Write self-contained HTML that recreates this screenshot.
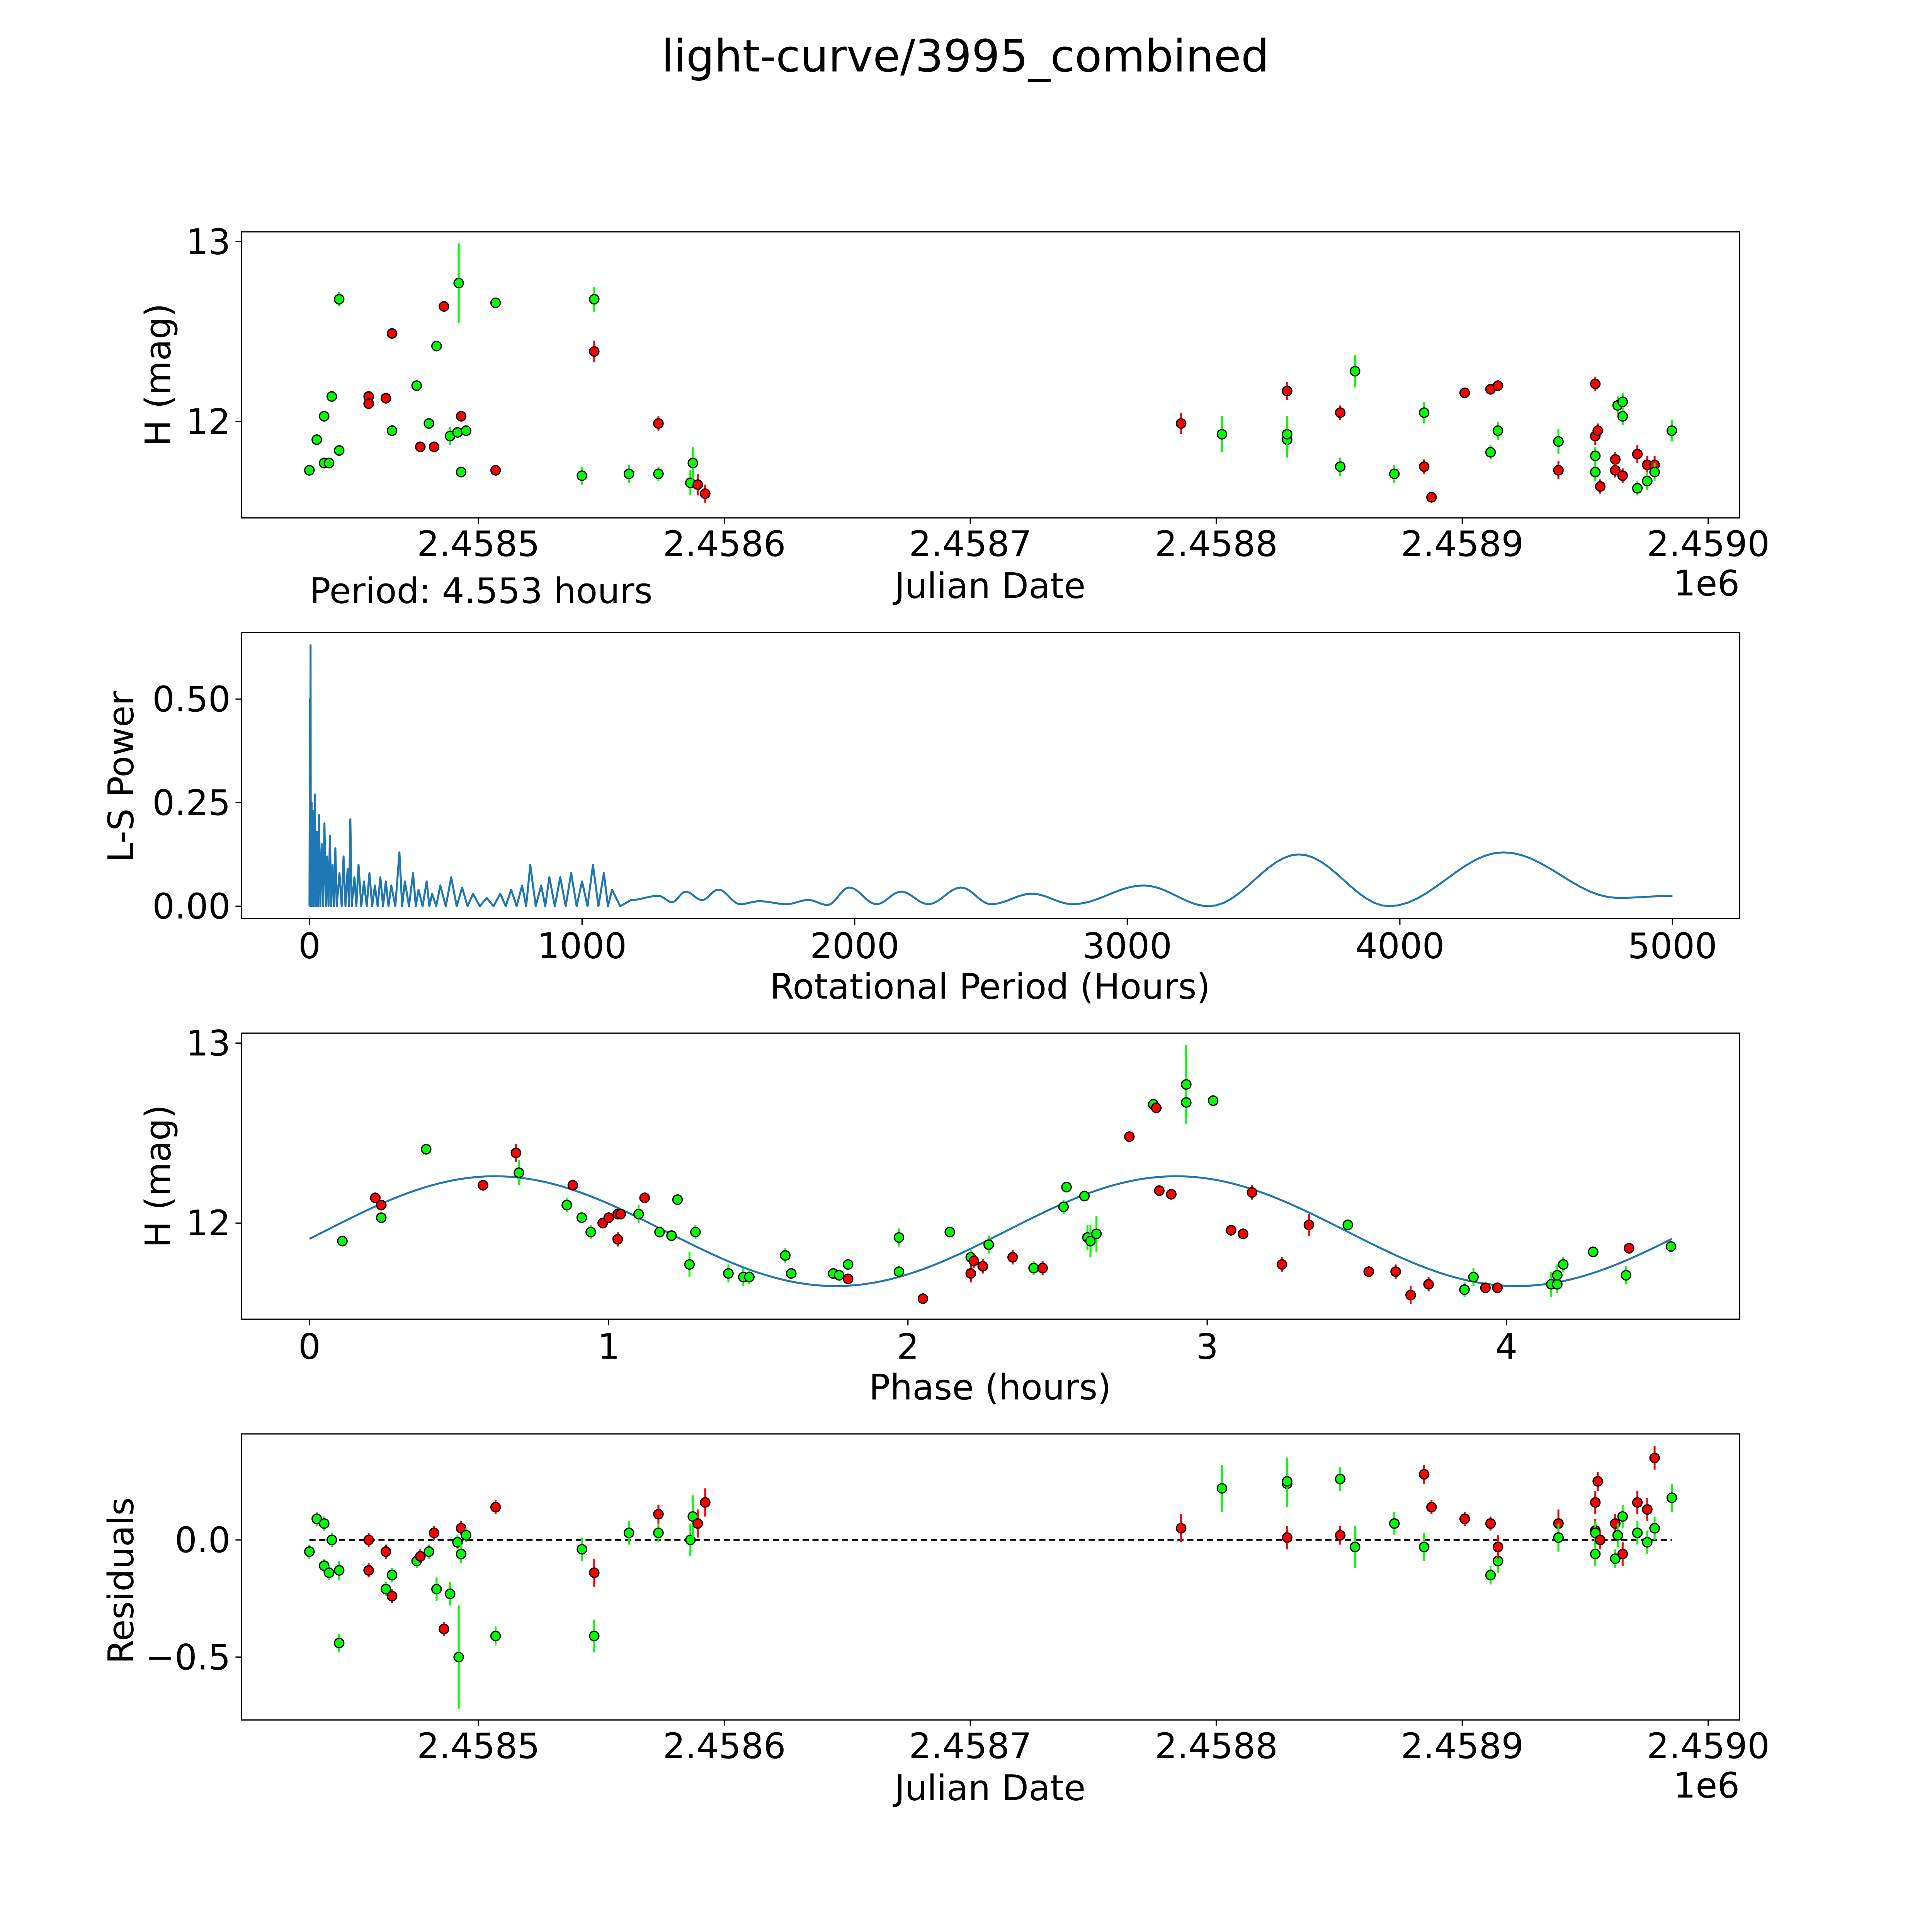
<!DOCTYPE html>
<html><head><meta charset="utf-8"><style>
html,body{margin:0;padding:0;background:#fff;overflow:hidden}
svg{display:block;width:100vw;height:100vw}
text{font-family:"DejaVu Sans","Liberation Sans",sans-serif;fill:#000}
</style></head><body>
<svg id="fig" xmlns="http://www.w3.org/2000/svg" viewBox="0 0 1567 1567" preserveAspectRatio="xMinYMin meet">
<rect x="0" y="0" width="1567" height="1567" fill="#fff"/>
<text x="783" y="58" font-size="36" text-anchor="middle">light-curve/3995_combined</text>
<g id="p1"></g>
<g id="p2"></g>
<g id="p3"></g>
<g id="p4"></g>
</svg>
<script>
// ===== DATA =====
const lcDays = [-68.7,-65.7,-62.7,-62.7,-60.7,-59.6,-56.6,-56.6,-44.6,-44.6,-37.6,-35.1,-35.1,-25.1,-23.6,-20.1,-18.0,-17.0,-14.0,-11.5,-8.0,-8.5,-7.0,-7.0,-5.0,7.0,7.0,42.1,47.1,47.1,61.2,73.2,73.2,86.2,87.2,89.2,92.2,285.7,302.3,328.8,328.8,328.8,350.4,350.4,356.4,372.4,384.5,384.5,387.5,401.0,411.5,414.5,411.5,414.5,439.1,439.1,454.1,454.1,455.1,454.1,454.1,456.1,462.2,462.2,465.2,463.2,465.2,465.2,471.2,471.2,475.2,475.2,478.2,478.2,485.2];
const lcMag = [11.73,11.90,12.03,11.77,11.77,12.14,12.68,11.84,12.14,12.10,12.13,12.49,11.95,12.20,11.86,11.99,11.86,12.42,12.64,11.92,12.77,11.94,12.03,11.72,11.95,12.66,11.73,11.70,12.68,12.39,11.71,11.71,11.99,11.66,11.77,11.65,11.60,11.99,11.93,12.17,11.90,11.93,12.05,11.75,12.28,11.71,11.75,12.05,11.58,12.16,12.18,12.20,11.83,11.95,11.89,11.73,12.21,11.92,11.95,11.81,11.72,11.64,11.79,11.73,11.70,12.09,12.11,12.03,11.63,11.82,11.76,11.67,11.76,11.72,11.95];
const lcErr = [0.03,0.03,0.03,0.03,0.03,0.03,0.04,0.03,0.03,0.03,0.03,0.03,0.03,0.03,0.03,0.03,0.03,0.03,0.03,0.05,0.22,0.03,0.03,0.03,0.03,0.03,0.03,0.05,0.07,0.06,0.05,0.04,0.04,0.07,0.09,0.06,0.05,0.06,0.10,0.05,0.10,0.10,0.04,0.05,0.09,0.05,0.04,0.06,0.03,0.03,0.03,0.03,0.04,0.05,0.07,0.05,0.04,0.05,0.04,0.05,0.05,0.04,0.04,0.04,0.04,0.05,0.05,0.05,0.04,0.05,0.05,0.05,0.05,0.05,0.06];
const lcCol = ['g','g','g','g','g','g','g','g','r','r','r','r','g','g','r','g','r','g','r','g','g','g','r','g','g','g','r','g','g','r','g','g','r','g','g','r','r','r','g','r','g','g','r','g','g','g','r','g','r','r','r','r','g','g','g','r','r','r','r','g','g','r','r','r','r','g','g','g','g','r','r','g','r','g','g'];
const lsPeriod = [0,2,3,4,5,8,10,14,16,20,24,28,31,35,40,45,50,55,60,65,70,75,80,85,90,95,100,110,118,125,132,140,145,150,155,165,172,180,190,200,210,220,230,240,250,260,270,280,290,300,315,330,340,350,365,380,390,400,415,430,440,450,465,480,500,520,540,560,580,600,625,650,675,700,720,740,760,780,795,810,830,850,865,880,900,920,940,960,980,1000,1020,1040,1060,1080,1095,1110,1140,1180];
const lsPower = [0.00,0.50,0.00,0.63,0.00,0.25,0.00,0.23,0.00,0.27,0.00,0.18,0.00,0.22,0.00,0.15,0.00,0.20,0.00,0.12,0.00,0.17,0.00,0.10,0.00,0.14,0.00,0.08,0.00,0.12,0.00,0.09,0.00,0.21,0.00,0.07,0.00,0.10,0.00,0.06,0.00,0.08,0.00,0.05,0.00,0.07,0.00,0.06,0.00,0.05,0.00,0.13,0.00,0.06,0.00,0.08,0.00,0.04,0.00,0.06,0.00,0.03,0.00,0.05,0.00,0.07,0.00,0.045,0.00,0.03,0.00,0.02,0.00,0.03,0.00,0.04,0.00,0.05,0.00,0.10,0.00,0.05,0.00,0.07,0.00,0.07,0.00,0.08,0.00,0.06,0.00,0.10,0.00,0.08,0.00,0.04,0.00,0.015];
const lsExtP = [1180,1280,1330,1380,1440,1500,1580,1650,1750,1830,1900,1980,2080,2170,2270,2390,2500,2650,2800,3060,3300,3630,3960,4380,4800,5000];
const lsExtV = [0.015,0.025,0.01,0.035,0.015,0.04,0.005,0.012,0.005,0.015,0.003,0.045,0.005,0.035,0.005,0.045,0.005,0.03,0.005,0.05,0.0,0.125,0.0,0.13,0.02,0.025];
const phPhase = [0.11,0.22,0.24,0.24,0.39,0.58,0.69,0.70,0.86,0.88,0.91,0.94,0.98,1.00,1.03,1.03,1.04,1.10,1.12,1.17,1.21,1.23,1.27,1.29,1.40,1.45,1.47,1.59,1.61,1.75,1.77,1.80,1.80,1.97,1.97,2.05,2.14,2.21,2.21,2.22,2.25,2.27,2.35,2.42,2.45,2.52,2.53,2.59,2.60,2.61,2.63,2.74,2.82,2.83,2.93,2.93,2.84,2.88,3.02,3.08,3.12,3.15,3.25,3.34,3.47,3.54,3.63,3.68,3.74,3.86,3.89,3.93,3.97,4.15,4.17,4.17,4.19,4.29,4.40,4.41,4.55];
const phMag = [11.90,12.14,12.10,12.03,12.41,12.21,12.39,12.28,12.10,12.21,12.03,11.95,12.00,12.03,12.05,11.91,12.05,12.05,12.14,11.95,11.93,12.13,11.77,11.95,11.72,11.70,11.70,11.82,11.72,11.72,11.71,11.69,11.77,11.73,11.92,11.58,11.95,11.81,11.72,11.79,11.76,11.88,11.81,11.75,11.75,12.09,12.20,12.15,11.92,11.90,11.94,12.48,12.66,12.64,12.77,12.67,12.18,12.16,12.68,11.96,11.94,12.17,11.77,11.99,11.99,11.73,11.73,11.60,11.66,11.63,11.70,11.64,11.64,11.66,11.66,11.71,11.77,11.84,11.71,11.86,11.87];
const phErr = [0.02,0.03,0.03,0.03,0.03,0.03,0.05,0.07,0.04,0.03,0.03,0.04,0.03,0.03,0.03,0.04,0.03,0.05,0.03,0.03,0.03,0.03,0.07,0.04,0.05,0.05,0.04,0.04,0.03,0.03,0.03,0.03,0.03,0.03,0.05,0.03,0.03,0.04,0.05,0.04,0.04,0.05,0.04,0.04,0.04,0.04,0.03,0.03,0.07,0.09,0.10,0.02,0.03,0.03,0.22,0.07,0.03,0.03,0.03,0.03,0.03,0.04,0.04,0.06,0.03,0.03,0.04,0.05,0.04,0.04,0.05,0.03,0.03,0.07,0.05,0.06,0.04,0.03,0.05,0.03,0.03];
const phCol = ['g','r','r','g','g','r','r','g','g','r','g','g','r','r','r','r','r','g','r','g','g','g','g','g','g','g','g','g','g','g','g','r','g','g','g','r','g','g','r','r','r','g','r','g','r','g','g','g','g','g','g','r','g','r','g','g','r','r','g','r','r','r','r','r','g','r','r','r','r','g','g','r','r','g','g','g','g','g','g','r','g'];
const fitMean = 11.955, fitAmp = 0.305, fitPeak = 0.62, fitHalfPeriod = 2.2765;
const rsDays = [-68.7,-65.7,-62.7,-62.7,-59.6,-60.7,-56.6,-56.6,-44.6,-44.6,-37.6,-37.6,-35.1,-35.1,-25.1,-23.6,-20.1,-18.0,-17.0,-14.0,-11.5,-8.5,-8.0,-7.0,-7.0,-5.0,7.0,7.0,42.1,47.1,47.1,61.2,73.2,73.2,86.2,87.2,89.2,92.2,285.7,302.3,328.8,328.8,328.8,350.4,350.4,356.4,372.4,384.5,384.5,387.5,401.0,411.5,411.5,414.5,414.5,439.1,439.1,455.1,454.1,454.1,454.1,454.1,456.1,462.2,462.2,463.2,465.2,465.2,471.2,471.2,475.2,475.2,478.2,478.2,485.2];
const rsVal = [-0.05,0.09,0.07,-0.11,0.0,-0.14,-0.13,-0.44,0.0,-0.13,-0.05,-0.21,-0.24,-0.15,-0.09,-0.07,-0.05,0.03,-0.21,-0.38,-0.23,-0.01,-0.50,0.05,-0.06,0.02,-0.41,0.14,-0.04,-0.41,-0.14,0.03,0.03,0.11,0.0,0.10,0.07,0.16,0.05,0.22,0.01,0.24,0.25,0.02,0.26,-0.03,0.07,0.28,-0.03,0.14,0.09,0.07,-0.15,-0.09,-0.03,0.07,0.01,0.25,0.16,0.04,0.03,-0.06,0.0,0.07,-0.08,0.02,-0.06,0.10,0.03,0.16,0.13,-0.01,0.35,0.05,0.18];
const rsErr = [0.03,0.03,0.03,0.03,0.03,0.03,0.04,0.04,0.03,0.03,0.03,0.03,0.03,0.03,0.03,0.03,0.03,0.03,0.05,0.03,0.05,0.03,0.22,0.03,0.04,0.03,0.04,0.03,0.05,0.07,0.06,0.05,0.04,0.04,0.07,0.09,0.06,0.06,0.06,0.10,0.05,0.10,0.10,0.04,0.05,0.09,0.05,0.04,0.06,0.03,0.03,0.03,0.04,0.05,0.05,0.06,0.06,0.04,0.05,0.05,0.05,0.05,0.04,0.04,0.04,0.05,0.05,0.05,0.05,0.05,0.05,0.05,0.05,0.05,0.06];
const rsCol = ['g','g','g','g','g','g','g','g','r','r','r','g','r','g','g','r','g','r','g','r','g','g','g','r','g','g','g','r','g','g','r','g','g','r','g','g','r','r','r','g','r','g','g','r','g','g','g','r','g','r','r','r','g','g','r','r','g','r','r','r','g','g','r','r','g','g','r','g','g','r','r','g','r','g','g'];
const jdTicks = [0,100,200,300,400,500];
const jdTickLabels = ['2.4585','2.4586','2.4587','2.4588','2.4589','2.4590'];
const lsTicks = [0,1000,2000,3000,4000,5000];
const lsYTicks = [0,0.25,0.5];
const lsYTickLabels = ['0.00','0.25','0.50'];
const phTicks = [0,1,2,3,4];
const rsYTicks = [0,-0.5];
const rsYTickLabels = ['0.0','\u22120.5'];

// ===== DRAWING =====
const NS='http://www.w3.org/2000/svg';
const FS=28.5;
function mk(parent,tag,attrs,txt){const e=document.createElementNS(NS,tag);for(const k in attrs)e.setAttribute(k,attrs[k]);if(txt!==undefined)e.textContent=txt;parent.appendChild(e);return e;}
const L=196,R=1411;
const xJD=d=>388+d*1.995;
const COL={r:'#ff0000',g:'#00ff00'};

function frame(g,top,bot){
  const f=mk(g,'rect',{x:L,y:top,width:R-L,height:bot-top,fill:'none',stroke:'#000','stroke-width':1});
  
  
}
function xtick(g,x,bot,label,by){
  mk(g,'line',{x1:x,y1:bot,x2:x,y2:bot+5,stroke:'#000','stroke-width':1});
  const t=mk(g,'text',{x:x,y:by,'font-size':FS,'text-anchor':'middle'},label);
  
  
}
function ytick(g,y,label){
  mk(g,'line',{x1:L,y1:y,x2:L-5,y2:y,stroke:'#000','stroke-width':1});
  const t=mk(g,'text',{x:L-9,y:y+10,'font-size':FS,'text-anchor':'end'},label);
  
  
}
function ylabel(g,x,cy,label,name){
  const t=mk(g,'text',{x:0,y:0,'font-size':FS,'text-anchor':'middle',transform:`translate(${x},${cy}) rotate(-90)`},label);
  
  
}
function xlabel(g,y,label,name){
  const t=mk(g,'text',{x:803,y:y,'font-size':FS,'text-anchor':'middle'},label);
  
  
}
function points(g,xs,ys,es,cs,xf,yf,ysc){
  for(let i=0;i<xs.length;i++){
    const x=xf(xs[i]),y=yf(ys[i]),c=COL[cs[i]];
    const eb=mk(g,'line',{x1:x,y1:y-es[i]*ysc,x2:x,y2:y+es[i]*ysc,stroke:c,'stroke-width':1.6});
    
    
    const p=mk(g,'circle',{cx:x,cy:y,r:3.8,fill:c,stroke:'#000','stroke-width':1});
    
    
  }
}

// Panel 1
(function(){
  const g=document.getElementById('p1');
  const yf=m=>342-(m-12)*146;
  frame(g,188,420);
  jdTicks.forEach((d,i)=>xtick(g,xJD(d),420,jdTickLabels[i],451));
  [12,13].forEach(v=>ytick(g,yf(v),String(v)));
  points(g,lcDays,lcMag,lcErr,lcCol,xJD,yf,146);
  xlabel(g,485,'Julian Date','x-axis-title');
  const o=mk(g,'text',{x:1411,y:483,'font-size':FS,'text-anchor':'end'},'1e6');
  
  
  const pt=mk(g,'text',{x:251,y:489,'font-size':FS},'Period: 4.553 hours');
  
  
  ylabel(g,138,304,'H (mag)','y-axis-title');
})();

// Panel 2
(function(){
  const g=document.getElementById('p2');
  const xf=p=>251+p*0.2211, yf=v=>735-v*336;
  frame(g,513,745);
  lsTicks.forEach(v=>xtick(g,xf(v),745,String(v),777));
  lsYTicks.forEach((v,i)=>ytick(g,yf(v),lsYTickLabels[i]));
  let d='';
  for(let i=0;i<lsPeriod.length;i++) d+=(i?'L':'M')+xf(lsPeriod[i]).toFixed(2)+' '+yf(lsPower[i]).toFixed(2);
  for(let i=1;i<lsExtP.length;i++){
    const p0=lsExtP[i-1],p1=lsExtP[i],v0=lsExtV[i-1],v1=lsExtV[i];
    for(let k=1;k<=12;k++){const t=k/12,s=(1-Math.cos(Math.PI*t))/2;
      d+='L'+xf(p0+(p1-p0)*t).toFixed(2)+' '+yf(v0+(v1-v0)*s).toFixed(2);}
  }
  const ln=mk(g,'path',{d:d,fill:'none',stroke:'#1f77b4','stroke-width':1.6,'stroke-linejoin':'round'});
  
  
  xlabel(g,810,'Rotational Period (Hours)','x-axis-title');
  ylabel(g,108,630,'L-S Power','y-axis-title');
})();

// Panel 3
(function(){
  const g=document.getElementById('p3');
  const xf=p=>251+p*242.7, yf=m=>992-(m-12)*146;
  frame(g,838,1070);
  phTicks.forEach(v=>xtick(g,xf(v),1070,String(v),1102));
  [12,13].forEach(v=>ytick(g,yf(v),String(v)));
  let d='';
  for(let k=0;k<=200;k++){const p=4.553*k/200;
    const m=fitMean+fitAmp*Math.cos(2*Math.PI*(p-fitPeak)/fitHalfPeriod);
    d+=(k?'L':'M')+xf(p).toFixed(2)+' '+yf(m).toFixed(2);}
  const ln=mk(g,'path',{d:d,fill:'none',stroke:'#1f77b4','stroke-width':1.6});
  
  
  points(g,phPhase,phMag,phErr,phCol,xf,yf,146);
  xlabel(g,1135,'Phase (hours)','x-axis-title');
  ylabel(g,138,954,'H (mag)','y-axis-title');
})();

// Panel 4
(function(){
  const g=document.getElementById('p4');
  const yf=v=>1249-v*190;
  frame(g,1163,1395);
  jdTicks.forEach((d,i)=>xtick(g,xJD(d),1395,jdTickLabels[i],1426));
  rsYTicks.forEach((v,i)=>ytick(g,yf(v),rsYTickLabels[i]));
  const z=mk(g,'line',{x1:xJD(-68.7),y1:yf(0),x2:xJD(485.2),y2:yf(0),stroke:'#000','stroke-width':1.4,'stroke-dasharray':'5,3'});
  
  
  points(g,rsDays,rsVal,rsErr,rsCol,xJD,yf,190);
  xlabel(g,1460,'Julian Date','x-axis-title');
  const o=mk(g,'text',{x:1411,y:1458,'font-size':FS,'text-anchor':'end'},'1e6');
  
  
  ylabel(g,108,1282,'Residuals','y-axis-title');
})();
</script>
</body></html>
